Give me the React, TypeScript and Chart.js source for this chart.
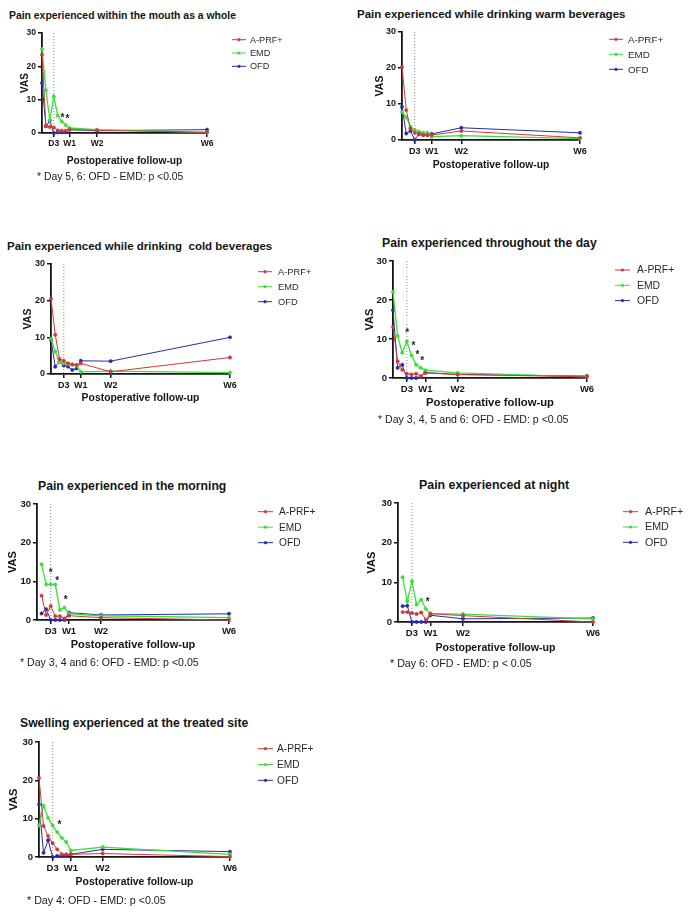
import React, { useEffect, useRef } from 'react';
import { Chart, registerables } from 'chart.js';

Chart.register(...registerables);

// ---------- data ----------
const SERIES = ['A-PRF+', 'EMD', 'OFD'];
const COLORS = ['#d03a36', '#3cde3c', '#2a2aac'];
const DAYS_FROM_0 = [0, 1, 2, 3, 4, 5, 6, 7, 14, 42];
const DAYS_FROM_1 = [1, 2, 3, 4, 5, 6, 7, 14, 42];
const X_TICK_DAYS = [3, 7, 14, 42];
const X_TICK_LABELS = ['D3', 'W1', 'W2', 'W6'];
const Y_MIN = 0;
const Y_MAX = 30;
const Y_STEP = 10;
const MARKER_DAY = 3;
const X_TITLE = 'Postoperative follow-up';
const Y_TITLE = 'VAS';

const TITLES = [
  'Pain experienced within the mouth as a whole',
  'Pain experienced while drinking warm beverages',
  'Pain experienced while drinking  cold beverages',
  'Pain experienced throughout the day',
  'Pain experienced in the morning',
  'Pain experienced at night',
  'Swelling experienced at the treated site',
];
const NOTES = [
  '* Day 5, 6: OFD - EMD: p <0.05',
  '',
  '',
  '* Day 3, 4, 5 and 6: OFD - EMD: p <0.05',
  '* Day 3, 4 and 6: OFD - EMD: p <0.05',
  '* Day 6: OFD - EMD: p < 0.05',
  '* Day 4: OFD - EMD: p <0.05',
];

const mouthAPRF = [23.5, 2.2, 1.8, 1.7, 0.8, 0.7, 0.7, 1.0, 0.8, 0.2];
const mouthEMD = [25.2, 12.8, 3.8, 11.0, 5.2, 3.5, 2.4, 1.5, 1.0, 0.2];
const mouthOFD = [15.0, 2.0, 3.7, 0, 0.2, 0.2, 0.3, 1.0, 0.7, 1.0];
const mouthStars = [[5.2, 5.4], [6.5, 4.9]];

const warmAPRF = [20.3, 8.3, 3.2, 2.0, 1.8, 1.4, 1.4, 1.4, 2.5, 0.6];
const warmEMD = [7.8, 6.3, 3.7, 2.8, 2.3, 2.0, 2.0, 0.9, 1.2, 0.4];
const warmOFD = [9.2, 1.8, 2.5, 0, 1.6, 1.4, 1.4, 1.7, 3.4, 2.0];

const coldAPRF = [20.5, 10.7, 4.1, 3.6, 2.9, 2.6, 2.5, 2.9, 0.6, 4.5];
const coldEMD = [9.6, 6.1, 3.2, 2.9, 2.7, 2.6, 2.3, 0.6, 0.8, 0.4];
const coldOFD = [9.3, 2.0, 3.4, 2.3, 2.0, 1.1, 1.5, 3.6, 3.5, 10.0];

const dayAPRF = [13.1, 4.3, 2.1, 1.1, 0.9, 1.1, 0.5, 1.3, 0.9, 0.3];
const dayEMD = [22.1, 10.8, 6.5, 9.4, 5.8, 3.4, 2.6, 2.0, 1.3, 0.3];
const dayOFD = [17.4, 2.6, 3.4, 0, 0, 0, 0.3, 1.4, 0.9, 0.5];
const dayStars = [[3.1, 12.3], [4.4, 8.8], [5.3, 6.7], [6.3, 5.0]];

const mornAPRF = [6.3, 1.3, 3.6, 1.0, 1.0, 0.4, 1.1, 0.6, 0];
const mornEMD = [14.4, 9.2, 9.2, 9.2, 2.6, 3.2, 1.6, 1.1, 0.6];
const mornOFD = [1.7, 2.8, 0, 0, 0, 0, 1.9, 1.3, 1.6];
const mornStars = [[3.0, 13.0], [4.4, 10.8], [6.3, 5.9]];

const nightAPRF = [2.5, 2.5, 2.3, 2.0, 2.4, 0.6, 2.1, 1.6, 0];
const nightEMD = [11.3, 5.2, 10.3, 4.4, 5.6, 3.3, 2.1, 2.0, 0.8];
const nightOFD = [4.0, 4.1, 0, 0, 0, 0, 1.7, 0.8, 1.0];
const nightStars = [[6.4, 5.7]];

const swellAPRF = [20.6, 8.1, 5.5, 3.6, 2.0, 0.7, 0.7, 0.7, 0.9, 0.1];
const swellEMD = [8.2, 13.4, 10.2, 8.2, 6.5, 5.0, 3.9, 1.7, 2.6, 0.7];
const swellOFD = [13.7, 1.1, 4.4, 0, 0.3, 0.3, 0.3, 0.7, 2.0, 1.4];
const swellStars = [[4.5, 9.0]];

const PANEL_DATA = [
  { days: DAYS_FROM_0, series: [mouthAPRF, mouthEMD, mouthOFD], stars: mouthStars },
  { days: DAYS_FROM_0, series: [warmAPRF, warmEMD, warmOFD], stars: [] },
  { days: DAYS_FROM_0, series: [coldAPRF, coldEMD, coldOFD], stars: [] },
  { days: DAYS_FROM_0, series: [dayAPRF, dayEMD, dayOFD], stars: dayStars },
  { days: DAYS_FROM_1, series: [mornAPRF, mornEMD, mornOFD], stars: mornStars },
  { days: DAYS_FROM_1, series: [nightAPRF, nightEMD, nightOFD], stars: nightStars },
  { days: DAYS_FROM_0, series: [swellAPRF, swellEMD, swellOFD], stars: swellStars },
];

// ---------- layout (page coordinates) ----------
// area: [left, top, right, bottom] of the plot area
const LAYOUT = [
  { area: [42, 33.3, 207, 133.3], title: [9, 16.5, 10.4], note: [37, 177, 10.4], tick: 8.5, yt: [10, 17], xt: [10.2, 27.7], leg: [25, 14, 43, 6.7, 13.3, 9.1] },
  { area: [402.3, 31.7, 580, 140], title: [357, 15, 11.5], note: [0, 0, 10.5], tick: 9, yt: [10.5, 22], xt: [10.3, 25], leg: [29, 14, 48, 7.3, 15, 9.8] },
  { area: [50.7, 264.3, 230, 374], title: [7, 247, 11.5], note: [0, 0, 10.5], tick: 9, yt: [10.5, 23], xt: [10.4, 24], leg: [28, 14, 48, 7.7, 15, 9.3] },
  { area: [393, 261, 587.3, 377.7], title: [382, 243, 12.2], note: [378, 419, 10.6], tick: 9.5, yt: [11, 23], xt: [11.3, 25.3], leg: [28, 15, 50, 9, 15.3, 10.4] },
  { area: [36.7, 504.3, 228.3, 620], title: [38, 486, 12.2], note: [20, 662, 10.6], tick: 9.5, yt: [11, 24], xt: [11, 25], leg: [29, 15, 50, 7.7, 15.5, 10.2] },
  { area: [398.3, 503.3, 593.3, 622.3], title: [419, 485, 12.4], note: [390, 663, 10.7], tick: 9.5, yt: [11, 26], xt: [10.6, 25.7], leg: [30, 15, 52, 8.7, 15.3, 10.7] },
  { area: [39.3, 742.3, 230.7, 857.7], title: [20, 723, 12.2], note: [27, 900, 10.7], tick: 9.5, yt: [11, 25], xt: [10.4, 25.3], leg: [28, 15, 47, 6.7, 15.8, 10.2] },
];

const FONT = '"Liberation Sans", Arial, Helvetica, sans-serif';
const PAD_L = 45;
const PAD_T = 12;
const PAD_R = 100;
const PAD_B = 5;
const X_H = 35;
const AXIS_COLOR = '#151515';

function Panel({ idx }: { idx: number }) {
  const ref = useRef<HTMLCanvasElement | null>(null);
  const d = PANEL_DATA[idx];
  const lay = LAYOUT[idx];
  const [L, T, R, B] = lay.area;
  const cw = Math.round(R - L + PAD_L + PAD_R);
  const ch = Math.round(B - T + PAD_T + PAD_B + X_H);

  useEffect(() => {
    if (!ref.current) return;
    const ytLH = lay.yt[0] * 1.2;
    const xtLH = lay.xt[0] * 1.2;

    const markerPlugin = {
      id: 'marker' + idx,
      beforeDatasetsDraw(chart: any) {
        const { ctx, scales } = chart;
        const x = scales.x.getPixelForValue(MARKER_DAY);
        ctx.save();
        ctx.strokeStyle = '#8a8a8a';
        ctx.lineWidth = 1;
        ctx.setLineDash([1, 2]);
        ctx.beginPath();
        ctx.moveTo(x, scales.y.getPixelForValue(Y_MAX));
        ctx.lineTo(x, scales.y.getPixelForValue(Y_MIN));
        ctx.stroke();
        ctx.restore();
      },
    };

    const starPlugin = {
      id: 'stars' + idx,
      afterDatasetsDraw(chart: any) {
        const { ctx, scales } = chart;
        const fs = 10;
        ctx.save();
        ctx.fillStyle = '#222';
        ctx.font = `bold ${fs}px ${FONT}`;
        ctx.textAlign = 'center';
        ctx.textBaseline = 'alphabetic';
        d.stars.forEach(([sx, sy]) => {
          ctx.fillText('*', scales.x.getPixelForValue(sx), scales.y.getPixelForValue(sy) + fs * 0.58);
        });
        ctx.restore();
      },
    };

    const legendPlugin = {
      id: 'legend' + idx,
      afterDraw(chart: any) {
        const { ctx, chartArea } = chart;
        const [ls, ll, tx, r0, rg, fs] = lay.leg;
        ctx.save();
        chart.data.datasets.forEach((ds: any, i: number) => {
          const y = chartArea.top + r0 + i * rg;
          const x0 = chartArea.right + ls;
          ctx.strokeStyle = ds.borderColor;
          ctx.fillStyle = ds.borderColor;
          ctx.lineWidth = 1;
          ctx.beginPath();
          ctx.moveTo(x0, y);
          ctx.lineTo(x0 + ll, y);
          ctx.stroke();
          ctx.beginPath();
          ctx.arc(x0 + ll / 2, y, 1.6, 0, Math.PI * 2);
          ctx.fill();
          ctx.fillStyle = '#2a2a2a';
          ctx.font = `${fs}px ${FONT}`;
          ctx.textAlign = 'left';
          ctx.textBaseline = 'middle';
          ctx.fillText(ds.label, chartArea.right + tx, y + 0.5);
        });
        ctx.restore();
      },
    };

    const chart = new Chart(ref.current, {
      type: 'line',
      data: {
        datasets: d.series.map((vals, i) => ({
          label: SERIES[i],
          data: d.days.map((day, j) => ({ x: day, y: vals[j] })),
          borderColor: COLORS[i],
          backgroundColor: COLORS[i],
          borderWidth: i === 1 ? 1.3 : 1,
          pointRadius: 1.7,
          pointBorderWidth: 0.5,
          pointHoverRadius: 0,
          tension: 0,
          clip: false as any,
        })),
      },
      options: {
        responsive: false,
        animation: false,
        devicePixelRatio: 1,
        events: [],
        layout: { padding: { left: 0, top: PAD_T, right: PAD_R, bottom: PAD_B } },
        plugins: { legend: { display: false }, tooltip: { enabled: false } },
        scales: {
          x: {
            type: 'linear',
            min: 0,
            max: 42,
            afterBuildTicks: (s: any) => {
              s.ticks = X_TICK_DAYS.map((v) => ({ value: v }));
            },
            afterFit: (s: any) => {
              s.height = X_H;
            },
            ticks: {
              autoSkip: false,
              maxRotation: 0,
              padding: 2,
              color: AXIS_COLOR,
              font: { family: FONT, size: lay.tick, weight: 'bold' },
              callback: (_v: any, i: number) => X_TICK_LABELS[i],
            },
            grid: { display: true, drawOnChartArea: false, drawTicks: true, tickLength: 4, color: AXIS_COLOR, lineWidth: 1.5 },
            border: { display: true, color: AXIS_COLOR, width: 1.8 },
            title: {
              display: true,
              text: X_TITLE,
              color: AXIS_COLOR,
              font: { family: FONT, size: lay.xt[0], weight: 'bold' },
              padding: { top: 0, bottom: X_H - xtLH / 2 - lay.xt[1] },
            },
          },
          y: {
            type: 'linear',
            min: Y_MIN,
            max: Y_MAX,
            afterFit: (s: any) => {
              s.width = PAD_L;
            },
            ticks: {
              stepSize: Y_STEP,
              padding: 2,
              color: AXIS_COLOR,
              font: { family: FONT, size: lay.tick, weight: 'bold' },
            },
            grid: { display: true, drawOnChartArea: false, drawTicks: true, tickLength: 4, color: AXIS_COLOR, lineWidth: 1.5 },
            border: { display: true, color: AXIS_COLOR, width: 1.8 },
            title: {
              display: true,
              text: Y_TITLE,
              color: AXIS_COLOR,
              font: { family: FONT, size: lay.yt[0], weight: 'bold' },
              padding: { top: PAD_L - lay.yt[1] - ytLH / 2, bottom: 0 },
            },
          },
        },
      } as any,
      plugins: [markerPlugin, starPlugin, legendPlugin],
    });
    return () => chart.destroy();
  }, [idx]);

  const [tx, ty, tfs] = lay.title;
  const [nx, ny, nfs] = lay.note;
  return (
    <>
      <div
        style={{
          position: 'absolute',
          left: tx,
          top: ty - 0.6 * tfs,
          fontFamily: FONT,
          fontWeight: 'bold',
          fontSize: tfs,
          lineHeight: 1.2,
          whiteSpace: 'pre',
          color: '#151515',
        }}
      >
        {TITLES[idx]}
      </div>
      <canvas
        ref={ref}
        width={cw}
        height={ch}
        style={{ position: 'absolute', left: L - PAD_L, top: T - PAD_T, width: cw, height: ch }}
      />
      {NOTES[idx] ? (
        <div
          style={{
            position: 'absolute',
            left: nx,
            top: ny - 0.6 * nfs,
            fontFamily: FONT,
            fontSize: nfs,
            lineHeight: 1.2,
            whiteSpace: 'pre',
            color: '#1a1a1a',
          }}
        >
          {NOTES[idx]}
        </div>
      ) : null}
    </>
  );
}

export default function App() {
  return (
    <div style={{ position: 'absolute', left: 0, top: 0, width: 700, height: 920, background: '#fff', overflow: 'hidden' }}>
      {PANEL_DATA.map((_, i) => (
        <Panel key={i} idx={i} />
      ))}
    </div>
  );
}
